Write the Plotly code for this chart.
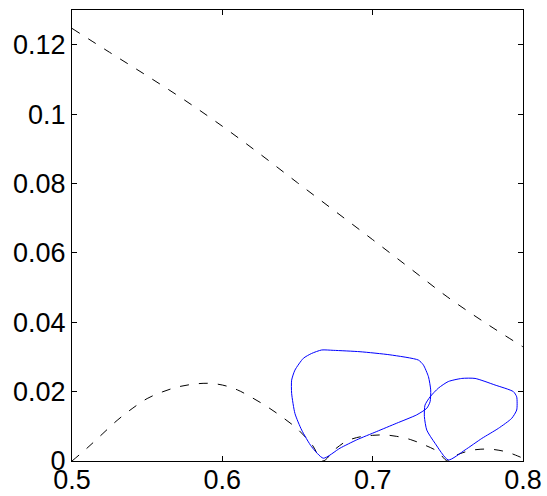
import plotly.graph_objects as go

# Upper dashed curve
upper_x = [0.5, 0.525, 0.55, 0.575, 0.6, 0.625, 0.65, 0.675, 0.7, 0.725, 0.75, 0.775, 0.8]
upper_y = [0.1247, 0.1178, 0.1110, 0.1040, 0.0965, 0.0885, 0.0802, 0.0720, 0.0638, 0.0555, 0.0472, 0.0398, 0.0329]

# Lower dashed arches
lower_x = [0.5, 0.51, 0.52, 0.53, 0.54, 0.55, 0.56, 0.57, 0.58, 0.59, 0.60, 0.61, 0.62, 0.63, 0.64, 0.65, 0.66, 0.6667,
           0.675, 0.683, 0.692, 0.70, 0.708, 0.716, 0.725, 0.734, 0.743, 0.75,
           0.755, 0.76, 0.766, 0.772, 0.778, 0.784, 0.79, 0.795, 0.8]
lower_y = [0.0, 0.0037, 0.0077, 0.0117, 0.0151, 0.0180, 0.0199, 0.0213, 0.0221, 0.0224, 0.0219, 0.0205, 0.0182, 0.0156, 0.0126, 0.0092, 0.0045, 0.0,
           0.0034, 0.0058, 0.0070, 0.0074, 0.0075, 0.0071, 0.0062, 0.0047, 0.0028, 0.0,
           0.0015, 0.0024, 0.0031, 0.0034, 0.0034, 0.0031, 0.0025, 0.0017, 0.0008]

# Blue loop 1
loop1_x = [0.6672, 0.6594, 0.6528, 0.6483, 0.6461, 0.6461, 0.6483, 0.6539, 0.6594, 0.6661, 0.6738, 0.6916, 0.7115,
           0.7304, 0.7337, 0.7371, 0.7386, 0.7382, 0.7360, 0.7293, 0.7160, 0.7027, 0.6894, 0.6783, 0.6672]
loop1_y = [0.0008, 0.0041, 0.0089, 0.0137, 0.0195, 0.0233, 0.0262, 0.0296, 0.0310, 0.0320, 0.0319, 0.0315, 0.0306,
           0.0291, 0.0277, 0.0243, 0.0205, 0.0171, 0.0152, 0.0133, 0.0109, 0.0085, 0.0061, 0.0037, 0.0008]

# Blue loop 2
loop2_x = [0.7503, 0.7415, 0.7360, 0.7344, 0.7348, 0.7382, 0.7437, 0.7503, 0.7593, 0.7681, 0.7814, 0.7936, 0.7958,
           0.7958, 0.7925, 0.7836, 0.7726, 0.7615, 0.7503]
loop2_y = [0.0003, 0.0051, 0.0089, 0.0128, 0.0161, 0.0185, 0.0210, 0.0229, 0.0238, 0.0238, 0.0219, 0.0200, 0.0185,
           0.0147, 0.0123, 0.0094, 0.0065, 0.0032, 0.0003]

x_ticks = [0.5, 0.6, 0.7, 0.8]
x_labels = ["0.5", "0.6", "0.7", "0.8"]
y_ticks = [0, 0.02, 0.04, 0.06, 0.08, 0.1, 0.12]
y_labels = ["0", "0.02", "0.04", "0.06", "0.08", "0.1", "0.12"]

dash_style = "9px,10px"
fig = go.Figure()
fig.add_trace(go.Scatter(x=upper_x, y=upper_y, mode="lines",
                         line=dict(color="black", width=1, dash=dash_style, shape="spline")))
fig.add_trace(go.Scatter(x=lower_x, y=lower_y, mode="lines",
                         line=dict(color="black", width=1, dash=dash_style, shape="spline")))
fig.add_trace(go.Scatter(x=loop1_x, y=loop1_y, mode="lines",
                         line=dict(color="#0000ff", width=1, shape="spline", smoothing=0.6)))
fig.add_trace(go.Scatter(x=loop2_x, y=loop2_y, mode="lines",
                         line=dict(color="#0000ff", width=1, shape="spline", smoothing=0.6)))

axis_common = dict(showline=True, linecolor="black", linewidth=1, mirror="ticks",
                   ticks="inside", ticklen=5, tickcolor="black", showgrid=False,
                   zeroline=False, automargin=False,
                   tickfont=dict(family="Liberation Sans, Arial, sans-serif",
                                 size=27, color="black"))
fig.update_xaxes(range=[0.5, 0.8], tickvals=x_ticks, ticktext=x_labels,
                 ticklabelstandoff=-5, **axis_common)
fig.update_yaxes(range=[0, 0.13], tickvals=y_ticks, ticktext=y_labels, **axis_common)
fig.update_layout(width=547, height=496, margin=dict(l=72, r=24, t=10, b=35),
                  paper_bgcolor="white", plot_bgcolor="white", showlegend=False)
fig.write_html("out.html")
